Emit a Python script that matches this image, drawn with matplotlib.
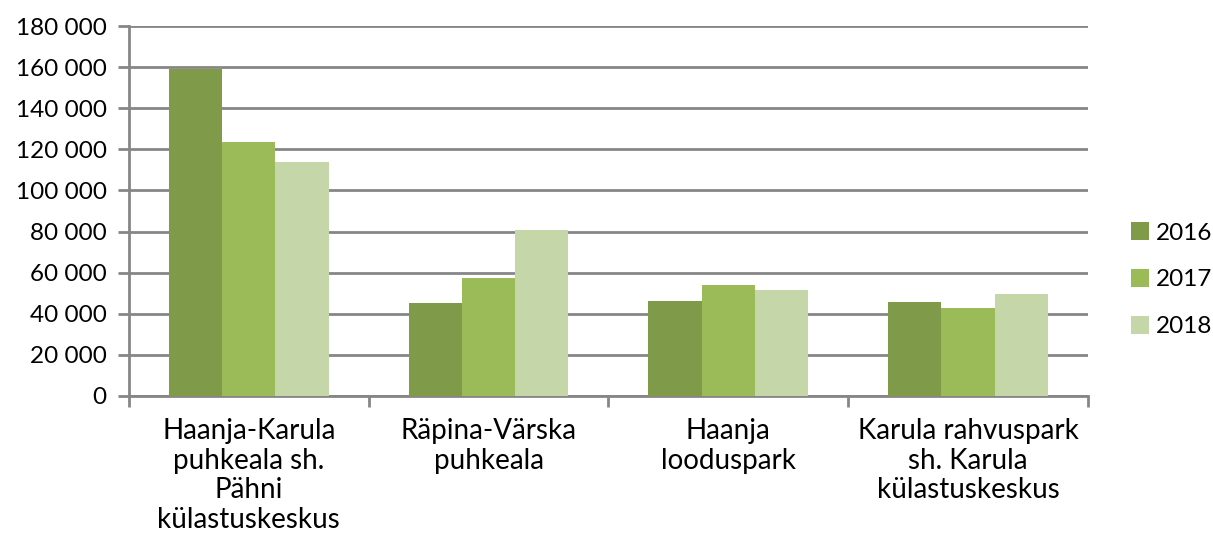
import numpy as np
import matplotlib.pyplot as plt
from matplotlib.patches import Patch

# Data
categories = ['Haanja-Karula\npuhkeala sh.\nPähni\nkülastuskeskus',
              'Räpina-Värska\npuhkeala',
              'Haanja\nlooduspark',
              'Karula rahvuspark\nsh. Karula\nkülastuskeskus']
years = ['2016', '2017', '2018']
values_2016 = [159200, 45000, 46300, 45800]
values_2017 = [123800, 57200, 54100, 42700]
values_2018 = [114000, 80900, 51600, 49500]
y_ticks = np.arange(0, 180001, 20000)

colors = ['#7F9A48', '#9BBB59', '#C5D6A9']
grid_color = '#868686'

plt.rcParams['font.family'] = ['Lato', 'DejaVu Sans']

fig = plt.figure(figsize=(12.13, 5.38), dpi=100)
ax = fig.add_axes([0.1063, 0.2645, 0.7906, 0.6866])

x = np.arange(len(categories))
width = 0.222
series = [values_2016, values_2017, values_2018]
for i, (vals, c) in enumerate(zip(series, colors)):
    ax.bar(x + (i - 1) * width, vals, width, color=c, edgecolor='none', zorder=3)

ax.set_xlim(-0.5, 3.5)
ax.set_ylim(0, 180000)
ax.set_yticks(y_ticks)
ax.set_yticklabels([f'{v:,}'.replace(',', ' ') for v in y_ticks])
ax.yaxis.grid(True, color=grid_color, linewidth=2, zorder=0)

# category boundaries as major ticks, labels on minor ticks
ax.set_xticks(np.arange(-0.5, 3.6, 1.0))
ax.set_xticklabels([])
ax.set_xticks(x, minor=True)
ax.set_xticklabels(categories, minor=True, fontsize=20, linespacing=1.18)
ax.tick_params(axis='x', which='minor', length=0, pad=16)
ax.tick_params(axis='x', which='major', length=8, width=2, color=grid_color)
ax.tick_params(axis='y', length=8, width=2, color=grid_color, labelsize=17.5, pad=8)

for s in ['top', 'right']:
    ax.spines[s].set_visible(False)
for s in ['left', 'bottom']:
    ax.spines[s].set_color(grid_color)
    ax.spines[s].set_linewidth(2)

handles = [Patch(facecolor=c, edgecolor='none') for c in colors]
fig.legend(handles, years, loc='center left', bbox_to_anchor=(0.932, 0.48),
           frameon=False, fontsize=17.5, handlelength=0.75, handleheight=0.75,
           handletextpad=0.3, labelspacing=1.05, borderpad=0, borderaxespad=0)

fig.savefig('out.png', dpi=100)
